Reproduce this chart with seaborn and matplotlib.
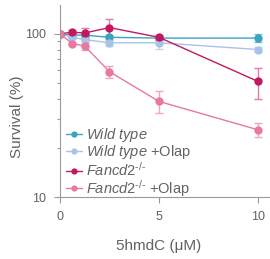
import numpy as np
import pandas as pd
import matplotlib
matplotlib.use("Agg")
import matplotlib.pyplot as plt
import seaborn as sns

# dose of 5hmdC (uM)
doses = [0, 0.625, 1.25, 2.5, 5, 10]

groups = ["Wild type", "Wild type +Olap", "Fancd2", "Fancd2 +Olap"]
hy = "\u2010"
labels = [r"$\mathit{Wild\ type}$",
          r"$\mathit{Wild\ type}$ +Olap",
          r"$\mathit{Fancd2}^{\mathit{" + hy + "/" + hy + "}}$",
          r"$\mathit{Fancd2}^{\mathit{" + hy + "/" + hy + "}}$ +Olap"]

wt_mean = [100, 98, 98, 95, 94, 94]
wt_err = [0, 2, 2, 3, 3, 5]
wt_olap_mean = [100, 95, 92, 88, 88, 80]
wt_olap_err = [0, 2, 2, 4, 7, 3]
fancd2_mean = [100, 102, 101, 109, 95, 51]
fancd2_err = [0, 3, 8, 14, 3, 11]
fancd2_olap_mean = [100, 87, 84, 58.5, 38.5, 25.8]
fancd2_olap_err = [0, 2, 4, 5, 6, 2.5]

colors = ["#3ba3c0", "#a9c3e8", "#c2185f", "#e8789e"]
err_colors = ["#7cc3d6", "#c3d6f0", "#e07aa8", "#f0a6bf"]

means = [wt_mean, wt_olap_mean, fancd2_mean, fancd2_olap_mean]
errs = [wt_err, wt_olap_err, fancd2_err, fancd2_olap_err]

df = pd.DataFrame({
    "dose": doses * 4,
    "survival": sum(means, []),
    "err": sum(errs, []),
    "group": [g for g in groups for _ in doses],
})

sns.set_style("ticks")
plt.rcParams["font.family"] = ["Liberation Sans", "DejaVu Sans"]
plt.rcParams["mathtext.fontset"] = "custom"
plt.rcParams["mathtext.rm"] = "Liberation Sans"
plt.rcParams["mathtext.it"] = "Liberation Sans:italic"

fig = plt.figure(figsize=(2.70, 2.59), dpi=100)
ax = fig.add_axes([0.222, 0.239, 0.778, 0.742])

for g, c, ec in zip(groups, colors, err_colors):
    sub = df[df["group"] == g]
    ax.errorbar(sub["dose"], sub["survival"], yerr=sub["err"], fmt="none",
                ecolor=ec, elinewidth=1.0, capsize=3, capthick=1.0, zorder=1)

sns.lineplot(data=df, x="dose", y="survival", hue="group", palette=colors,
             marker="o", markersize=6, markeredgewidth=0, linewidth=1.0,
             ax=ax, legend=False, zorder=2)

ax.set_yscale("log")
ax.set_ylim(10, 150)
ax.set_xlim(0, 10.6)
ax.set_xticks([0, 5, 10])
ax.set_yticks([10, 100])
ax.set_yticklabels(["10", "100"])
ax.yaxis.set_minor_locator(matplotlib.ticker.LogLocator(base=10, subs=np.arange(2, 10)))
ax.yaxis.set_minor_formatter(matplotlib.ticker.NullFormatter())

grey = "#626262"
for s in ["top", "right"]:
    ax.spines[s].set_visible(False)
for s in ["left", "bottom"]:
    ax.spines[s].set_color("#9a9a9a")
    ax.spines[s].set_linewidth(0.8)
ax.tick_params(axis="both", which="major", colors="#9a9a9a", labelcolor=grey,
               labelsize=9, length=4, width=0.8, pad=6)
ax.tick_params(axis="y", which="minor", colors="#9a9a9a", length=2.5, width=0.8)
ax.set_xlabel("5hmdC (\u03bcM)", fontsize=11, color=grey)
ax.set_ylabel("Survival (%)", fontsize=11, color=grey)
ax.xaxis.set_label_coords(0.472, -0.22)
ax.yaxis.set_label_coords(-0.17, 0.42)

handles = [plt.Line2D([], [], color=c, marker="o", markersize=4.5,
                      markeredgewidth=0, linewidth=1.0) for c in colors]
leg = ax.legend(handles, labels, loc="lower left", bbox_to_anchor=(-0.02, -0.062),
                frameon=False, fontsize=10.5, handlelength=1.1, handletextpad=0.3,
                labelspacing=-0.05, borderaxespad=0.3)
for t in leg.get_texts():
    t.set_color(grey)

fig.savefig("out.png", dpi=100)
